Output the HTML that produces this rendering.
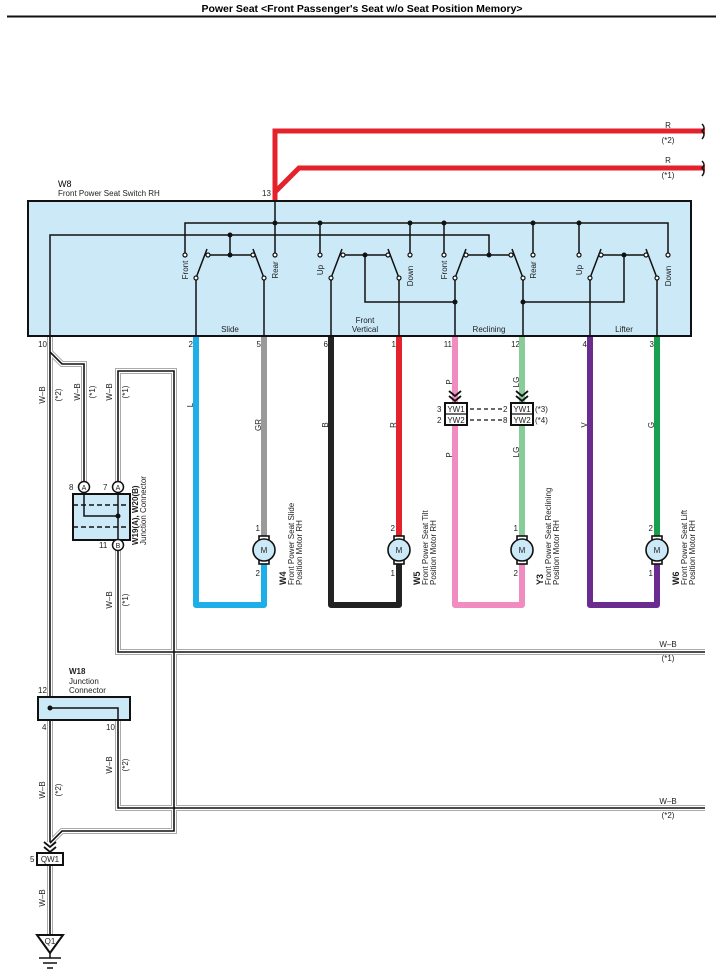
<!DOCTYPE html>
<html><head><meta charset="utf-8"><style>
html,body{margin:0;padding:0;background:#fff;}
svg{display:block;font-family:"Liberation Sans",sans-serif;}
.t{font-size:8px;fill:#222;}
.wbo{fill:none;stroke:#aaa;stroke-width:6;}
.wbw{fill:none;stroke:#fff;stroke-width:4;}
.wbk{fill:none;stroke:#111;stroke-width:1.6;}
.ln{fill:none;stroke:#111;stroke-width:1.5;}
.oc{fill:#fff;stroke:#111;stroke-width:1.2;}
</style></head><body>
<svg width="724" height="980" viewBox="0 0 724 980" xmlns="http://www.w3.org/2000/svg">
<text x="362" y="12" text-anchor="middle" font-size="10.5" font-weight="bold">Power Seat &lt;Front Passenger's Seat w/o Seat Position Memory&gt;</text>
<line x1="7" y1="16.5" x2="716" y2="16.5" stroke="#111" stroke-width="2"/>

<path d="M275,200 V131 H705" fill="none" stroke="#e3222c" stroke-width="5"/>
<path d="M275,192 L299,168 H705" fill="none" stroke="#e3222c" stroke-width="5"/>
<path d="M702,124 q4,4 0,7 q4,3 0,8" fill="none" stroke="#111" stroke-width="1.5"/>
<path d="M702,161 q4,4 0,7 q4,3 0,8" fill="none" stroke="#111" stroke-width="1.5"/>
<text class="t" x="668" y="128" text-anchor="middle">R</text>
<text class="t" x="668" y="143" text-anchor="middle">(*2)</text>
<text class="t" x="668" y="163" text-anchor="middle">R</text>
<text class="t" x="668" y="178" text-anchor="middle">(*1)</text>
<text x="58" y="187" font-size="9">W8</text>
<text class="t" x="58" y="196">Front Power Seat Switch RH</text>
<text class="t" x="262" y="196">13</text>

<rect x="28" y="201" width="663" height="135" fill="#cce9f8" stroke="#111" stroke-width="2"/>
<g class="ln">
<path d="M275,201 V255"/>
<path d="M185,255 V223 H668 V255"/>
<path d="M50,336 V235 H489 V255"/>
<path d="M230,235 V255"/>
<path d="M320,223 V255 M410,223 V255 M444,223 V255 M533,223 V255 M579,223 V255"/>
<path d="M208,255 H253 M343,255 H388 M466,255 H511 M601,255 H646"/>
<path d="M365,255 V302 H455 M523,302 H624 V255"/>
<path d="M196,278 L207,249 M264,278 L253,249 M331,278 L342,249 M399,278 L388,249 M455,278 L466,249 M523,278 L512,249 M590,278 L601,249 M657,278 L646,249"/>
<path d="M196,278 V336 M264,278 V336 M331,278 V336 M399,278 V336 M455,278 V336 M523,278 V336 M590,278 V336 M657,278 V336"/>
</g>
<g fill="#111">
<circle cx="275" cy="223" r="2.5"/><circle cx="320" cy="223" r="2.5"/><circle cx="410" cy="223" r="2.5"/><circle cx="444" cy="223" r="2.5"/><circle cx="533" cy="223" r="2.5"/><circle cx="579" cy="223" r="2.5"/>
<circle cx="230" cy="235" r="2.5"/><circle cx="230" cy="255" r="2.5"/><circle cx="365" cy="255" r="2.5"/><circle cx="489" cy="255" r="2.5"/><circle cx="624" cy="255" r="2.5"/>
<circle cx="455" cy="302" r="2.5"/><circle cx="523" cy="302" r="2.5"/>
</g>
<g class="oc">
<circle cx="185" cy="255" r="2"/><circle cx="275" cy="255" r="2"/><circle cx="320" cy="255" r="2"/><circle cx="410" cy="255" r="2"/><circle cx="444" cy="255" r="2"/><circle cx="533" cy="255" r="2"/><circle cx="579" cy="255" r="2"/><circle cx="668" cy="255" r="2"/>
<circle cx="208" cy="255" r="2"/><circle cx="253" cy="255" r="2"/><circle cx="343" cy="255" r="2"/><circle cx="388" cy="255" r="2"/><circle cx="466" cy="255" r="2"/><circle cx="511" cy="255" r="2"/><circle cx="601" cy="255" r="2"/><circle cx="646" cy="255" r="2"/>
<circle cx="196" cy="278" r="2"/><circle cx="264" cy="278" r="2"/><circle cx="331" cy="278" r="2"/><circle cx="399" cy="278" r="2"/><circle cx="455" cy="278" r="2"/><circle cx="523" cy="278" r="2"/><circle cx="590" cy="278" r="2"/><circle cx="657" cy="278" r="2"/>
</g>
<g class="t" text-anchor="middle">
<text transform="translate(188,270) rotate(-90)">Front</text>
<text transform="translate(278,270) rotate(-90)">Rear</text>
<text transform="translate(323,270) rotate(-90)">Up</text>
<text transform="translate(413,276) rotate(-90)">Down</text>
<text transform="translate(447,270) rotate(-90)">Front</text>
<text transform="translate(536,270) rotate(-90)">Rear</text>
<text transform="translate(582,270) rotate(-90)">Up</text>
<text transform="translate(671,276) rotate(-90)">Down</text>
<text x="230" y="332">Slide</text>
<text x="365" y="323">Front</text>
<text x="365" y="332">Vertical</text>
<text x="489" y="332">Reclining</text>
<text x="624" y="332">Lifter</text>
</g>
<g class="t" text-anchor="end">
<text x="47" y="347">10</text><text x="193" y="347">2</text><text x="261" y="347">5</text><text x="328" y="347">6</text><text x="396" y="347">1</text><text x="452" y="347">11</text><text x="520" y="347">12</text><text x="587" y="347">4</text><text x="654" y="347">3</text>
</g>

<g fill="none" stroke-width="6" stroke-linejoin="round">
<path d="M196,337 V605 H264 V562" stroke="#1eaee8"/>
<path d="M264,337 V538" stroke="#9a9a9a"/>
<path d="M331,337 V605 H399 V562" stroke="#222"/>
<path d="M399,337 V538" stroke="#e3222c"/>
<path d="M455,337 V605 H522 V562" stroke="#f08cc0"/>
<path d="M522,337 V538" stroke="#88cc99"/>
<path d="M590,337 V605 H657 V562" stroke="#6a2d8f"/>
<path d="M657,337 V538" stroke="#16a050"/>
</g>
<path d="M449,391 l6,5 l6,-5 M449,396 l6,5 l6,-5 M516,391 l6,5 l6,-5 M516,396 l6,5 l6,-5" fill="none" stroke="#111" stroke-width="1.8"/>
<g fill="#fff" stroke="#111" stroke-width="2">
<rect x="445" y="403" width="22" height="22"/><rect x="511" y="403" width="22" height="22"/>
</g>
<path d="M445,414 H467 M511,414 H533" stroke="#111" stroke-width="1.3"/>
<path d="M470,409 H503 M470,420 H503" stroke="#111" stroke-width="1.2" stroke-dasharray="4,3"/>
<g class="t">
<text x="456" y="412" text-anchor="middle">YW1</text><text x="456" y="423" text-anchor="middle">YW2</text>
<text x="522" y="412" text-anchor="middle">YW1</text><text x="522" y="423" text-anchor="middle">YW2</text>
<text x="437" y="412">3</text><text x="437" y="423">2</text>
<text x="503" y="412">2</text><text x="503" y="423">8</text>
<text x="535" y="412">(*3)</text><text x="535" y="423">(*4)</text>
</g>
<g class="t" text-anchor="middle">
<text transform="translate(193,405) rotate(-90)">L</text>
<text transform="translate(261,425) rotate(-90)">GR</text>
<text transform="translate(328,425) rotate(-90)">B</text>
<text transform="translate(396,425) rotate(-90)">R</text>
<text transform="translate(452,382) rotate(-90)">P</text>
<text transform="translate(452,455) rotate(-90)">P</text>
<text transform="translate(519,382) rotate(-90)">LG</text>
<text transform="translate(519,452) rotate(-90)">LG</text>
<text transform="translate(587,425) rotate(-90)">V</text>
<text transform="translate(654,425) rotate(-90)">G</text>
</g>
<g>
<g stroke="#111" stroke-width="1.6">
<rect x="259" y="536" width="10" height="5" fill="#fff"/><rect x="259" y="559" width="10" height="5" fill="#fff"/><circle cx="264" cy="550" r="11" fill="#cce9f8"/>
<rect x="394" y="536" width="10" height="5" fill="#fff"/><rect x="394" y="559" width="10" height="5" fill="#fff"/><circle cx="399" cy="550" r="11" fill="#cce9f8"/>
<rect x="517" y="536" width="10" height="5" fill="#fff"/><rect x="517" y="559" width="10" height="5" fill="#fff"/><circle cx="522" cy="550" r="11" fill="#cce9f8"/>
<rect x="652" y="536" width="10" height="5" fill="#fff"/><rect x="652" y="559" width="10" height="5" fill="#fff"/><circle cx="657" cy="550" r="11" fill="#cce9f8"/>
</g>
<g class="t" text-anchor="middle"><text x="264" y="553">M</text><text x="399" y="553">M</text><text x="522" y="553">M</text><text x="657" y="553">M</text></g>
</g>
<g class="t" text-anchor="end">
<text x="260" y="531">1</text><text x="260" y="576">2</text>
<text x="395" y="531">2</text><text x="395" y="576">1</text>
<text x="518" y="531">1</text><text x="518" y="576">2</text>
<text x="653" y="531">2</text><text x="653" y="576">1</text>
</g>
<g class="t">
<text transform="translate(286,585) rotate(-90)"><tspan font-weight="bold" font-size="9">W4</tspan></text>
<text transform="translate(294,585) rotate(-90)">Front Power Seat Slide</text>
<text transform="translate(302,585) rotate(-90)">Position Motor RH</text>
<text transform="translate(420,585) rotate(-90)"><tspan font-weight="bold" font-size="9">W5</tspan></text>
<text transform="translate(428,585) rotate(-90)">Front Power Seat Tilt</text>
<text transform="translate(436,585) rotate(-90)">Position Motor RH</text>
<text transform="translate(543,585) rotate(-90)"><tspan font-weight="bold" font-size="9">Y3</tspan></text>
<text transform="translate(551,585) rotate(-90)">Front Power Seat Reclining</text>
<text transform="translate(559,585) rotate(-90)">Position Motor RH</text>
<text transform="translate(679,585) rotate(-90)"><tspan font-weight="bold" font-size="9">W6</tspan></text>
<text transform="translate(687,585) rotate(-90)">Front Power Seat Lift</text>
<text transform="translate(695,585) rotate(-90)">Position Motor RH</text>
</g>

<g>
<path class="wbo" d="M50,337 V842 M50,352 L62,364 H84 V482 M118,482 V371 H174 V831 H62 L50,843 M118,550 V652 H705 M118,721 V808 H705 M50,862 V935"/>
<path class="wbw" d="M50,337 V842 M50,352 L62,364 H84 V482 M118,482 V371 H174 V831 H62 L50,843 M118,550 V652 H705 M118,721 V808 H705 M50,862 V935"/>
<path class="wbk" d="M50,337 V842 M50,352 L62,364 H84 V482 M118,482 V371 H174 V831 H62 L50,843 M118,550 V652 H705 M118,721 V808 H705 M50,862 V935"/>
</g>
<g class="t" text-anchor="middle">
<text transform="translate(45,395) rotate(-90)">W–B</text>
<text transform="translate(61,395) rotate(-90)">(*2)</text>
<text transform="translate(80,392) rotate(-90)">W–B</text>
<text transform="translate(95,392) rotate(-90)">(*1)</text>
<text transform="translate(112,392) rotate(-90)">W–B</text>
<text transform="translate(128,392) rotate(-90)">(*1)</text>
<text transform="translate(112,600) rotate(-90)">W–B</text>
<text transform="translate(128,600) rotate(-90)">(*1)</text>
<text transform="translate(45,790) rotate(-90)">W–B</text>
<text transform="translate(61,790) rotate(-90)">(*2)</text>
<text transform="translate(112,765) rotate(-90)">W–B</text>
<text transform="translate(128,765) rotate(-90)">(*2)</text>
<text transform="translate(45,898) rotate(-90)">W–B</text>
<text x="668" y="647">W–B</text><text x="668" y="661">(*1)</text>
<text x="668" y="804">W–B</text><text x="668" y="818">(*2)</text>
</g>

<rect x="73" y="494" width="57" height="46" fill="#cce9f8" stroke="#111" stroke-width="2"/>
<path d="M73,505 H130 M73,527 H130" stroke="#111" stroke-width="1.5" stroke-dasharray="5,3"/>
<path class="ln" d="M84,492 V516 H118 M118,492 V540"/>
<circle cx="118" cy="516" r="2.5" fill="#111"/>
<g stroke="#111" stroke-width="1.5" fill="#fff"><circle cx="84" cy="487" r="5.5"/><circle cx="118" cy="487" r="5.5"/><circle cx="118" cy="545" r="5.5"/></g>
<g class="t" text-anchor="middle"><text x="84" y="490" font-size="7">A</text><text x="118" y="490" font-size="7">A</text><text x="118" y="548" font-size="7">B</text></g>
<g class="t"><text x="69" y="490">8</text><text x="103" y="490">7</text><text x="99" y="548">11</text>
<text transform="translate(138,545) rotate(-90)" font-weight="bold">W19(A), W20(B)</text>
<text transform="translate(146,545) rotate(-90)">Junction Connector</text></g>

<g class="t"><text x="69" y="674" font-weight="bold">W18</text><text x="69" y="684">Junction</text><text x="69" y="693">Connector</text>
<text x="38" y="693">12</text><text x="42" y="730">4</text><text x="106" y="730">10</text></g>
<rect x="38" y="697" width="92" height="23" fill="#cce9f8" stroke="#111" stroke-width="2"/>
<path class="ln" d="M50,708 H118 V721"/>
<circle cx="50" cy="708" r="2.5" fill="#111"/>

<path d="M44,842 l6,5 l6,-5 M44,847 l6,5 l6,-5" fill="none" stroke="#111" stroke-width="1.8"/>
<rect x="37" y="853" width="26" height="12" fill="#fff" stroke="#111" stroke-width="2"/>
<text class="t" x="50" y="862" text-anchor="middle">QW1</text>
<text class="t" x="30" y="862">5</text>
<path d="M37,935 H63 L50,953 Z" fill="#fff" stroke="#111" stroke-width="2"/>
<text class="t" x="50" y="944" text-anchor="middle">Q1</text>
<path d="M50,953 V958 M39,958 H61 M43,963 H57 M47,968 H53" stroke="#111" stroke-width="1.5"/>
</svg>
</body></html>
